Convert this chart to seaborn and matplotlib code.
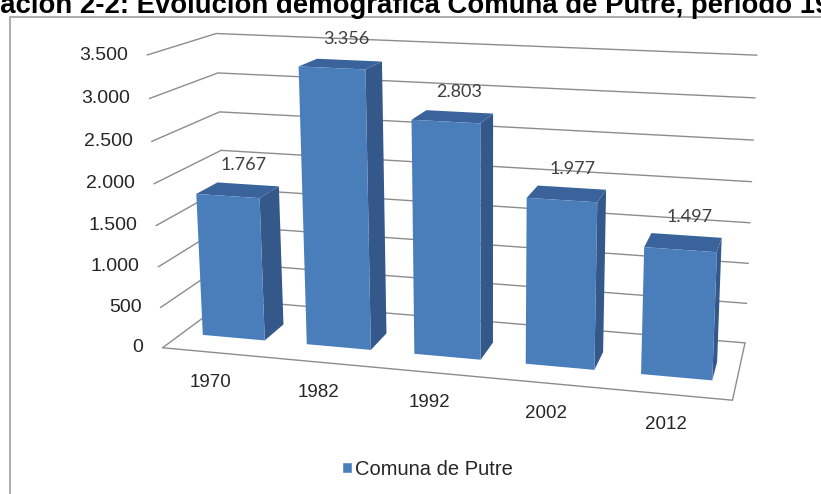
import numpy as np
import pandas as pd
import matplotlib
matplotlib.use("Agg")
import matplotlib.pyplot as plt
import seaborn as sns
from matplotlib import transforms as mtransforms
from matplotlib.patches import Polygon
from matplotlib.lines import Line2D

# ---------------- data ----------------
years = ["1970", "1982", "1992", "2002", "2012"]
population = [1767, 3356, 2803, 1977, 1497]
value_labels = ["1.767", "3.356", "2.803", "1.977", "1.497"]
y_ticks = [0, 500, 1000, 1500, 2000, 2500, 3000, 3500]
y_tick_labels = ["0", "500", "1.000", "1.500", "2.000", "2.500", "3.000", "3.500"]
series_name = "Comuna de Putre"
title_text = "Ilustración 2-2: Evolución demográfica Comuna de Putre, período 1970-2012"
title_hidden_prefix = "Ilustr"

# ---------------- layout / style ----------------
W, H = 821, 494
FRONT = "#4A7EBB"
SIDE = "#35588A"
TOP = "#3A639C"
GRID = "#8C8C8C"
BAR_W = 0.6
DEPTH = 0.45
XL, XR, DF, DB = -0.5, 4.5, -0.4, 1.0

# camera calibration (world X, value, depth) -> pixel (u, v)
calib_world = [
    (-0.5, 0, -0.4), (4.5, 0, -0.4), (4.5, 0, 1.0), (-0.5, 0, 1.0),
    (-0.5, 3500, 1.0), (4.5, 3500, 1.0), (-0.5, 3500, -0.4),
    (-0.5, 500, -0.4), (-0.5, 2000, -0.4), (-0.5, 2000, 1.0), (4.5, 2000, 1.0),
    (-0.3, 0, 0), (-0.3, 1767, 0), (0.3, 1767, 0), (0.3, 1767, 0.45),
    (0.7, 3356, 0), (1.3, 3356, 0), (1.3, 3356, 0.45), (0.7, 0, 0),
    (1.7, 2803, 0), (2.3, 2803, 0), (2.3, 2803, 0.45), (1.7, 0, 0),
    (2.7, 1977, 0), (2.7, 0, 0),
    (3.7, 0, 0), (3.7, 1497, 0), (4.3, 1497, 0), (4.3, 1497, 0.45),
]
calib_pixel = [
    (163, 347), (732, 402), (743, 343), (228, 301),
    (213, 34), (758, 55), (147, 56),
    (160, 307), (153, 185), (223, 152), (753, 182),
    (199, 337), (199, 194), (263, 195), (281, 183),
    (300, 67), (363, 68), (382, 60), (305, 344),
    (413, 122), (478, 125), (492, 113), (414, 352),
    (527, 198), (527, 363),
    (644, 374), (646, 248), (715, 252), (720, 237),
]


def fit_camera(world, image):
    wpts = np.asarray(world, float).copy()
    wpts[:, 1] /= 1000.0
    ipts = (np.asarray(image, float) - [410.0, 250.0]) / 300.0
    rows = []
    for (x, z, d), (u, v) in zip(wpts, ipts):
        rows.append([x, z, d, 1, 0, 0, 0, 0, -u * x, -u * z, -u * d, -u])
        rows.append([0, 0, 0, 0, x, z, d, 1, -v * x, -v * z, -v * d, -v])
    _, _, vt = np.linalg.svd(np.asarray(rows))
    return vt[-1].reshape(3, 4)


P = fit_camera(calib_world, calib_pixel)


def project(X, Z, D):
    X, Z, D = np.broadcast_arrays(np.asarray(X, float), np.asarray(Z, float),
                                  np.asarray(D, float))
    pts = np.vstack([X.ravel(), Z.ravel() / 1000.0, D.ravel(), np.ones(X.size)])
    h = P @ pts
    u = h[0] / h[2] * 300.0 + 410.0
    v = h[1] / h[2] * 300.0 + 250.0
    return np.column_stack([u, v])


class PlaneProjection(mtransforms.Transform):
    """Maps (category position, value) on a depth plane to image pixels."""
    input_dims = 2
    output_dims = 2
    is_separable = False
    has_inverse = False

    def __init__(self, plane_depth):
        super().__init__()
        self.plane_depth = plane_depth

    def transform_non_affine(self, values):
        values = np.asarray(values, float).reshape(-1, 2)
        return project(values[:, 0], values[:, 1], self.plane_depth)


# ---------------- figure ----------------
sns.set_style("white")
plt.rcParams["font.family"] = ["Liberation Sans", "DejaVu Sans"]

fig = plt.figure(figsize=(W / 100, H / 100), dpi=100)
ax = fig.add_axes([0, 0, 1, 1])
pix = mtransforms.Affine2D().scale(1 / 100, -1 / 100).translate(0, H / 100) + fig.dpi_scale_trans

df = pd.DataFrame({"Año": years, "Población": population, "Serie": series_name})
sns.barplot(data=df, x="Año", y="Población", hue="Serie", palette=[FRONT],
            width=BAR_W, saturation=1, ax=ax, legend=True)
ax.set_axis_off()

# walls: gridlines on back and left walls
for v in y_ticks:
    pts = project([XL, XL, XR], [v, v, v], [DF, DB, DB])
    ax.add_line(Line2D(pts[:, 0], pts[:, 1], color=GRID, lw=1.0,
                       transform=pix, zorder=1, clip_on=False))
# floor outline (front and right edges)
pts = project([XL, XR, XR], [0, 0, 0], [DF, DF, DB])
ax.add_line(Line2D(pts[:, 0], pts[:, 1], color=GRID, lw=1.0,
                   transform=pix, zorder=1, clip_on=False))

# value axis labels
for v, lab in zip(y_ticks, y_tick_labels):
    u, vv = project(XL, v, DF)[0]
    ax.text(u - 19, vv, lab, ha="right", va="center", fontsize=14,
            color="#262626", transform=pix, zorder=5)

# bars: seaborn front faces projected, plus side and top faces
front_tr = PlaneProjection(0.0) + pix
bars = ax.containers[0]
for rect, lab in zip(bars, value_labels):
    x0, w, h = rect.get_x(), rect.get_width(), rect.get_height()
    side = project([x0 + w] * 4, [0, 0, h, h], [0, DEPTH, DEPTH, 0])
    top = project([x0, x0 + w, x0 + w, x0], [h] * 4, [0, 0, DEPTH, DEPTH])
    ax.add_patch(Polygon(side, closed=True, facecolor=SIDE, edgecolor="none",
                         transform=pix, zorder=3, clip_on=False))
    ax.add_patch(Polygon(top, closed=True, facecolor=TOP, edgecolor="none",
                         transform=pix, zorder=3, clip_on=False))
    rect.set_transform(front_tr)
    rect.set_clip_on(False)
    rect.set_zorder(4)
    rect.set_edgecolor("none")
    u, vv = project(x0 + w / 2, h, DEPTH / 2)[0]
    ax.text(u + 6, vv - 25, lab, ha="center", va="center", fontsize=13,
            family=["Lato", "DejaVu Sans"], color="#404040", transform=pix, zorder=5)

# category labels
for i, yr in enumerate(years):
    u, vv = project(i, 0, DF)[0]
    ax.text(u - 5, vv + 30, yr, ha="center", va="center", fontsize=13.5,
            color="#262626", transform=pix, zorder=5)

# legend
sns.move_legend(ax, "center", bbox_to_anchor=(427 / W, 1 - 469 / H), title=None,
                frameon=False, fontsize=14.5, handlelength=0.5, handleheight=0.5,
                handletextpad=0.15)

# outer frame of the embedded chart
ax.add_line(Line2D([10, 10, W + 5], [H + 5, 17, 17], color="#A6A6A6", lw=1.3,
                   transform=pix, clip_on=False, zorder=6))

# clipped document caption above the chart
renderer = fig.canvas.get_renderer()
probe = ax.text(0, 0, title_hidden_prefix, fontsize=19.8, fontweight="bold",
                transform=pix)
prefix_w = probe.get_window_extent(renderer).width
probe.remove()
ax.text(-prefix_w, 13, title_text, ha="left", va="baseline", fontsize=19.8,
        fontweight="bold", color="black", transform=pix, zorder=6)

fig.savefig("out.png", dpi=100)
